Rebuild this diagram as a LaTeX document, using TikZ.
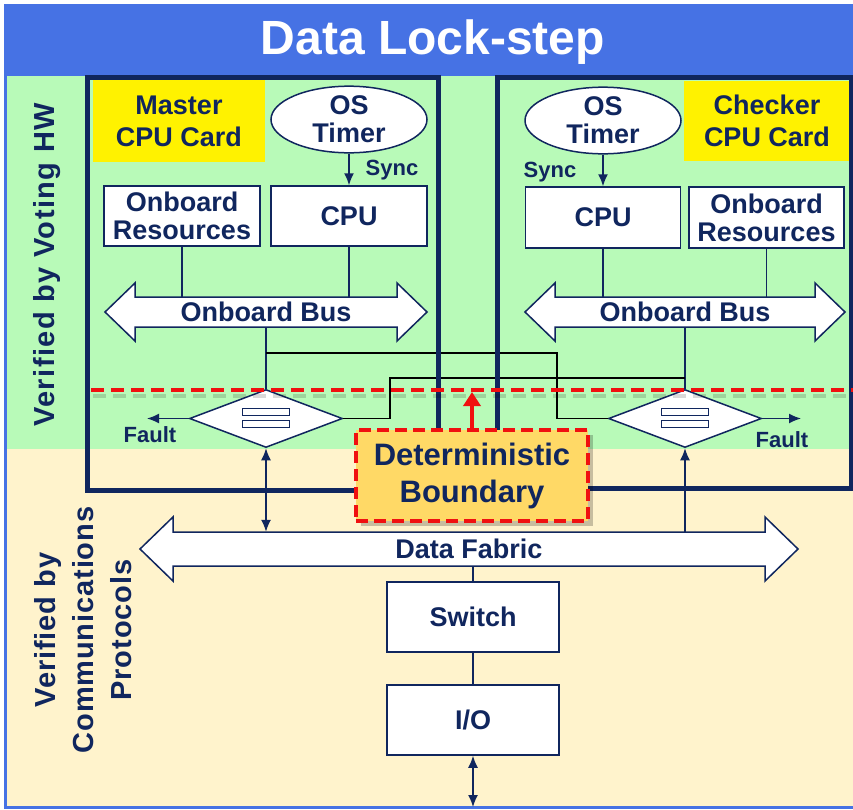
\documentclass[tikz,border=0pt]{standalone}
\usepackage{fontspec}
\setmainfont{Liberation Sans}
\newfontfamily\sideA[LetterSpace=5]{Liberation Sans}
\newfontfamily\sideB[LetterSpace=3]{Liberation Sans}
\usetikzlibrary{shapes.geometric,arrows.meta,calc}

\definecolor{navy}{RGB}{16,38,94}
\definecolor{titleblue}{RGB}{70,114,228}
\definecolor{vgreen}{RGB}{184,250,184}
\definecolor{cream}{RGB}{255,243,204}
\definecolor{detfill}{RGB}{255,217,102}
\definecolor{bndred}{RGB}{240,16,16}

\newcommand\setfs[2]{\fontsize{#1}{#2}\selectfont}

% two-headed bus arrow: centre x, centre y, half shaft length,
% half shaft height, head length, head overhang
\newcommand\busshape[6]{%
  \draw[busline] ({#1-#3-#5},#2) -- ({#1-#3},{#2-#4-#6}) -- ({#1-#3},{#2-#4})
    -- ({#1+#3},{#2-#4}) -- ({#1+#3},{#2-#4-#6}) -- ({#1+#3+#5},#2)
    -- ({#1+#3},{#2+#4+#6}) -- ({#1+#3},{#2+#4}) -- ({#1-#3},{#2+#4})
    -- ({#1-#3},{#2+#4+#6}) -- cycle;}

% the "equals" mark inside a voter diamond
\newcommand\equalsmark[1]{%
  \draw[navy, line width=1.5pt, fill=white] ($(#1.center)+(-23.5,-10)$) rectangle ++(47,7);
  \draw[navy, line width=1.5pt, fill=white] ($(#1.center)+(-23.5,2)$) rectangle ++(47,7);}

\begin{document}
\begin{tikzpicture}[x=1pt,y=-1pt,
  txt/.style={text=navy, font=\bfseries\setfs{27}{28}, align=center},
  whitebox/.style={txt, draw=navy, line width=1.5pt, fill=white, inner sep=0pt},
  ylabel/.style={txt, fill=yellow, inner sep=0pt, font=\bfseries\setfs{27}{32}},
  oval/.style={txt, ellipse, draw=navy, line width=1.5pt, fill=white, inner sep=0pt,
    minimum width=156, minimum height=65},
  shaft/.style={txt, inner sep=0pt, minimum height=30},
  busline/.style={draw=navy, line width=1.5pt, fill=white},
  voter/.style={diamond, draw=navy, line width=1.5pt, fill=white, inner sep=0pt,
    minimum width=153, minimum height=58},
  conn/.style={draw=navy, line width=1.5pt},
  crossln/.style={draw=black, line width=1.5pt},
  tip/.style={-{Latex[length=12pt,width=10pt]}},
  dtip/.style={{Latex[length=12pt,width=10pt]}-{Latex[length=12pt,width=10pt]}},
  smalltxt/.style={text=navy, font=\bfseries\setfs{22}{24}},
  cardframe/.style={draw=navy, line width=5pt},
  boundary/.style={draw=bndred, line width=4pt, dash pattern=on 13pt off 7pt},
  detbox/.style={txt, font=\bfseries\setfs{31}{37}, fill=detfill, draw=bndred,
    line width=3.5pt, dash pattern=on 12pt off 6pt, minimum width=232,
    minimum height=91, inner sep=0pt},
]
\useasboundingbox (0,0) rectangle (853,809);

% ---------- backgrounds ----------
\fill[white] (0,0) rectangle (853,809);
\fill[titleblue] (4,4) rectangle (853,76);
\fill[vgreen] (6,76) rectangle (853,449);
\fill[cream] (6,449) rectangle (853,807);
\draw[titleblue, line width=3pt] (5,76) -- (5,807.5) -- (853,807.5);

\node[text=white, font=\bfseries\setfs{48}{50}] (title) at (433,42) {Data Lock-step};

% ---------- side captions ----------
\node[rotate=90, text=navy, font=\sideA\bfseries\setfs{29}{30}] (capHW) at (47,265)
  {Verified by Voting HW};
\node[rotate=90, text=navy, align=center, font=\sideB\bfseries\setfs{29}{38}] (capComm)
  at (83,630) {Verified by\\Communications\\Protocols};

% ---------- master card ----------
\node[ylabel, minimum width=172, minimum height=82] (lblM) at (179,121) {Master\\CPU Card};
\node[oval] (osM) at (349,119.5) {OS\\Timer};
\node[whitebox, minimum width=156, minimum height=60] (cpuM) at (349,216) {CPU};
\node[whitebox, minimum width=156, minimum height=60] (resM) at (182,216) {Onboard\\Resources};
\node[smalltxt] (syncM) at (392,170) {Sync};
\draw[conn, tip] (osM.south) -- (cpuM.north);

\busshape{266}{312}{131}{15}{30}{14}
\node[shaft, minimum width=262] (busM) at (266,312) {Onboard Bus};
\draw[conn] (resM.south) -- (resM.south |- busM.north);
\draw[conn] (cpuM.south) -- (cpuM.south |- busM.north);

\node[voter] (dM) at (266,418.5) {};
\equalsmark{dM}
\draw[conn] (busM.south) -- (dM.north);
\coordinate (faultM) at (147,418.5);
\draw[conn, tip] (dM.west) -- (faultM);
\node[smalltxt] (fM) at (150,435) {Fault};

% ---------- checker card ----------
\node[ylabel, minimum width=166, minimum height=80] (lblC) at (767,121) {Checker\\CPU Card};
\node[oval] (osC) at (603,120.5) {OS\\Timer};
\node[whitebox, minimum width=155, minimum height=61] (cpuC) at (603,217.5) {CPU};
\node[whitebox, minimum width=155, minimum height=61] (resC) at (766.5,217.5) {Onboard\\Resources};
\node[smalltxt] (syncC) at (550,172) {Sync};
\draw[conn, tip] (osC.south) -- (cpuC.north);

\busshape{685}{312}{130}{15}{30}{14}
\node[shaft, minimum width=260] (busC) at (685,312) {Onboard Bus};
\draw[conn] (cpuC.south) -- (cpuC.south |- busC.north);
\draw[conn] (resC.south) -- (resC.south |- busC.north);

\node[voter] (dC) at (685,418.5) {};
\equalsmark{dC}
\draw[conn] (busC.south) -- (dC.north);
\coordinate (faultC) at (801,418.5);
\draw[conn, tip] (dC.east) -- (faultC);
\node[smalltxt] (fC) at (782,440) {Fault};

% ---------- cross-compare links ----------
\coordinate (j1) at (266,353);
\coordinate (k1) at (557,353);
\draw[crossln] (j1) -- (k1) |- (dC.west);
\coordinate (j2) at (685,378);
\coordinate (k2) at (390,378);
\draw[crossln] (j2) -- (k2) |- (dM.east);

% ---------- data fabric, switch, I/O ----------
\busshape{469}{549}{296}{17}{33}{15}
\node[shaft, minimum width=592, minimum height=34] (fab) at (469,549) {Data Fabric};
\node[whitebox, minimum width=172, minimum height=70] (sw) at (473,617) {Switch};
\node[whitebox, minimum width=172, minimum height=70] (io) at (473,720) {I/O};
\draw[conn, dtip] (dM.south) -- (dM.south |- fab.north);
\draw[conn, tip] (dC.south |- fab.north) -- (dC.south);
\draw[conn] (sw.north |- fab.south) -- (sw.north);
\draw[conn] (sw.south) -- (io.north);
\coordinate (ext) at (473,807);
\draw[conn, dtip] (io.south) -- (ext);

% ---------- card frames ----------
\draw[cardframe] (87,77) rectangle (438,490);
\draw[cardframe] (497,77) rectangle (851,488);

% ---------- deterministic boundary ----------
\draw[black, opacity=0.15, line width=4pt, dash pattern=on 13pt off 7pt] (93,396) -- (853,396);
\draw[boundary] (91,390) -- (853,390);
\fill[black, opacity=0.22] (361,435) rectangle (593,526);
\node[detbox] (det) at (472,475.5) {Deterministic\\Boundary};
\coordinate (bnd) at (472,392);
\draw[bndred, line width=4pt, -{Triangle[length=14pt,width=17pt]}] (det.north) -- (bnd);
\end{tikzpicture}
\end{document}
